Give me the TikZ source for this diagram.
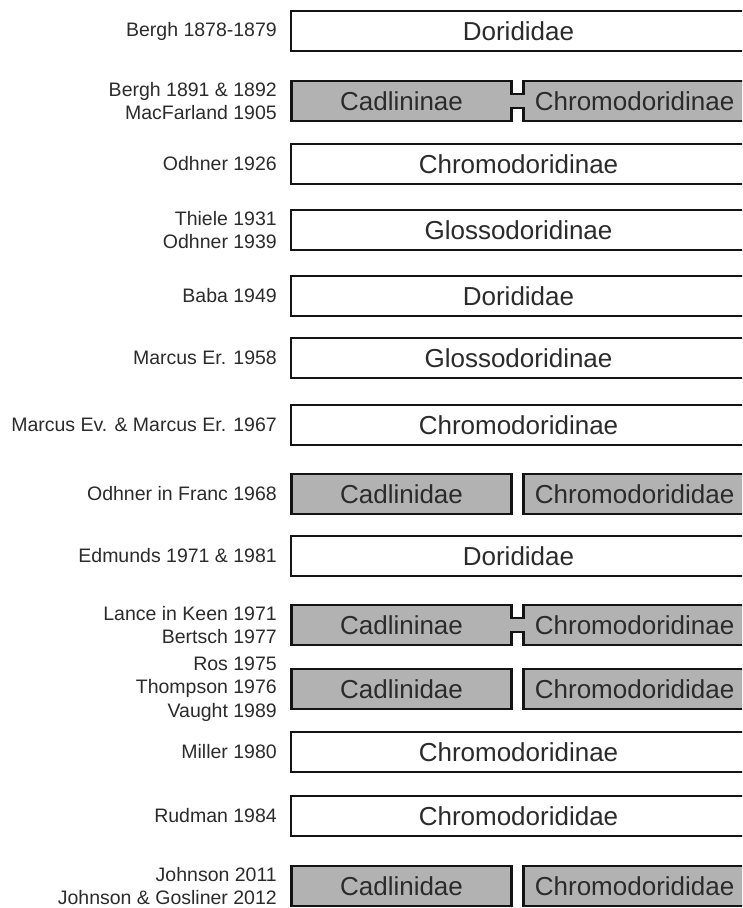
\documentclass[tikz,border=0pt]{standalone}
\usepackage{fontspec}
\setmainfont{Liberation Sans}
\usepackage{xcolor}

\definecolor{boxgrey}{gray}{0.70}
\definecolor{inkgrey}{gray}{0.17}

\tikzset{
  ref/.style={anchor=east, align=right, inner sep=0pt, text=inkgrey,
    font=\fontsize{19.5}{23.5}\selectfont},
  famtext/.style={inner sep=0pt, outer sep=0pt, minimum height=40pt,
    text=inkgrey, font=\fontsize{26}{30}\selectfont},
  rim/.style={draw=black!92, line width=2.9pt},
  whole/.style={famtext, rim, fill=white, minimum width=455pt},
  lefthalf/.style={famtext, fill=boxgrey, minimum width=220.5pt},
  righthalf/.style={famtext, fill=boxgrey, minimum width=223pt}
}

\begin{document}
\begin{tikzpicture}[x=1pt,y=-1pt]
\useasboundingbox (0,0) rectangle (742,908);
\clip (0,0) rectangle (742,908);

% references on the left
\foreach \n/\y/\who in {%
  1/31/{Bergh 1878-1879},
  2/101/{Bergh 1891 \& 1892\\MacFarland 1905},
  3/164/{Odhner 1926},
  4/230/{Thiele 1931\\Odhner 1939},
  5/296/{Baba 1949},
  6/358/{Marcus Er. 1958},
  7/425/{Marcus Ev. \& Marcus Er. 1967},
  8/494/{Odhner in Franc 1968},
  9/556/{Edmunds 1971 \& 1981},
  10/625/{Lance in Keen 1971\\Bertsch 1977},
  11/689/{Ros 1975\\Thompson 1976\\Vaught 1989},
  12/752/{Miller 1980},
  13/816/{Rudman 1984},
  14/886/{Johnson 2011\\Johnson \& Gosliner 2012}}{
  \node[ref] (ref\n) at (277,\y) {\who};
}

% one family for the whole group
\foreach \n/\y/\fam in {%
  1/31/Dorididae,
  3/164/Chromodoridinae,
  4/230/Glossodoridinae,
  5/296/Dorididae,
  6/358/Glossodoridinae,
  7/425/Chromodoridinae,
  9/556/Dorididae,
  12/752/Chromodoridinae,
  13/816/Chromodorididae}{
  \node[whole] (fam\n) at (518.5,\y) {\fam};
}

% two separate families
\foreach \n/\y in {8/494, 11/689, 14/886}{
  \node[lefthalf, rim] (cadl\n) at (401.5,\y) {Cadlinidae};
  \node[righthalf, rim] (chro\n) at (634.6,\y) {Chromodorididae};
}

% two subfamilies joined in one family
\foreach \n/\y in {2/101, 10/625}{
  \node[lefthalf] (cadl\n) at (401.5,\y) {Cadlininae};
  \node[righthalf] (chro\n) at (634.6,\y) {Chromodoridinae};
  \fill[boxgrey] ([yshift=7pt]cadl\n.east) rectangle ([yshift=-7pt]chro\n.west);
  \draw[rim] (cadl\n.north east) -- ++(0,13) -| (chro\n.north west)
    -- (chro\n.north east) -- (chro\n.south east) -- (chro\n.south west)
    -- ++(0,-13) -| (cadl\n.south east) -- (cadl\n.south west)
    -- (cadl\n.north west) -- cycle;
}
\end{tikzpicture}
\end{document}
